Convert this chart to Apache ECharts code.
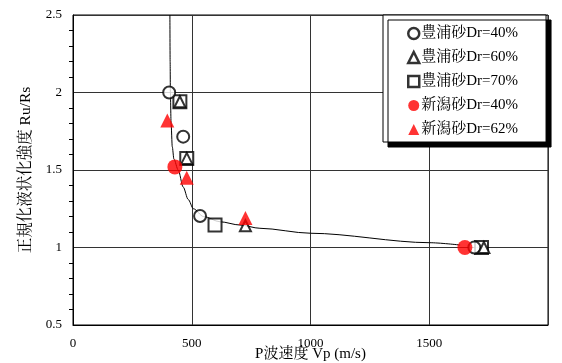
<!DOCTYPE html>
<html>
<head>
<meta charset="utf-8">
<script src="https://cdn.jsdelivr.net/npm/echarts@6/dist/echarts.min.js"></script>
<style>html,body{margin:0;padding:0;background:#fff}#c{width:562px;height:363px}</style>
</head>
<body>
<div id="c"></div>
<script>
var seriesNames = ['豊浦砂Dr=40%', '豊浦砂Dr=60%', '豊浦砂Dr=70%', '新潟砂Dr=40%', '新潟砂Dr=62%'];
var toyoura40 = [[405, 2.0], [464, 1.715], [535, 1.203], [1690, 1.0]];
var toyoura60 = [[450, 1.94], [479, 1.575], [726, 1.14], [1730, 1.0]];
var toyoura70 = [[450, 1.94], [479, 1.575], [598, 1.145], [1720, 1.0]];
var niigata40 = [[429, 1.52], [1650, 1.0]];
var niigata62 = [[397, 1.82], [479, 1.45], [726, 1.19]];
var fitCurve = [[408, 2.5], [409, 2.2], [410, 2.0], [413, 1.8], [418, 1.65], [425, 1.57], [443, 1.5], [464, 1.39], [485, 1.31], [507, 1.25], [549, 1.2], [619, 1.166], [703, 1.145], [787, 1.124], [1000, 1.092], [1500, 1.031], [1630, 1.016]];
var xTicks = ['0', '500', '1000', '1500', ''];
var xName = 'P波速度 Vp (m/s)';
var yName = '正規化液状化強度 Ru/Rs';

var FONT = "'Liberation Serif', 'Noto Serif CJK JP', 'Noto Sans CJK JP', serif";
var chart = echarts.init(document.getElementById('c'), null, {renderer: 'canvas'});
var openStyle = {color: '#fff', borderColor: '#000', borderWidth: 2};
var redStyle = {color: '#ff0000', borderColor: '#ff0000', borderWidth: 0};
chart.setOption({
  animation: false,
  backgroundColor: '#fff',
  textStyle: {fontFamily: FONT},
  grid: {left: 73, right: 14, top: 15, bottom: 38, show: true, borderColor: '#000', borderWidth: 1, containLabel: false, outerBoundsMode: 'none'},
  legend: {
    data: seriesNames.map(function (n, i) {
      return {name: n, itemStyle: i < 3 ? {borderWidth: 2.5, borderColor: '#000', color: '#fff'} : {borderWidth: 0}};
    }),
    orient: 'vertical',
    left: 383, top: 15,
    padding: [11, 28, 5, 24],
    itemGap: 9,
    itemWidth: 11, itemHeight: 11,
    backgroundColor: '#fff',
    borderColor: '#000', borderWidth: 1,
    shadowColor: '#000', shadowBlur: 0, shadowOffsetX: 5, shadowOffsetY: 5,
    textStyle: {fontFamily: FONT, fontSize: 15, color: '#000', padding: [0, 0, 0, -3]}
  },
  xAxis: {
    type: 'value', min: 0, max: 2000, interval: 500,
    name: xName, nameLocation: 'middle', nameGap: 22, nameMoveOverlap: false,
    nameTextStyle: {fontFamily: FONT, fontSize: 15, color: '#000'},
    axisLine: {show: true, lineStyle: {color: '#000', width: 1}},
    axisTick: {show: false},
    axisLabel: {color: '#000', fontSize: 13, fontFamily: FONT, margin: 12, formatter: function (v) { return xTicks[Math.round(v / 500)]; }},
    splitLine: {show: true, lineStyle: {color: '#333', width: 1}}
  },
  yAxis: {
    type: 'value', min: 0.5, max: 2.5, interval: 0.5,
    name: yName, nameLocation: 'middle', nameGap: 39, nameRotate: 90, nameMoveOverlap: false,
    nameTextStyle: {fontFamily: FONT, fontSize: 15.5, color: '#000'},
    axisLine: {show: true, lineStyle: {color: '#000', width: 1}},
    axisTick: {show: false},
    minorTick: {show: true, splitNumber: 5, length: 4, lineStyle: {color: '#000'}},
    axisLabel: {color: '#000', fontSize: 13, fontFamily: FONT, margin: 11},
    splitLine: {show: true, lineStyle: {color: '#333', width: 1}}
  },
  series: [
    {name: 'fit', type: 'line', data: fitCurve, showSymbol: false, symbol: 'none', smooth: 0.3, smoothMonotone: 'x', lineStyle: {color: '#000', width: 1}, z: 1, silent: true},
    {name: seriesNames[0], type: 'scatter', data: toyoura40, symbol: 'circle', symbolSize: 12, itemStyle: openStyle, z: 3},
    {name: seriesNames[1], type: 'scatter', data: toyoura60, symbol: 'triangle', symbolSize: 11, itemStyle: openStyle, z: 3},
    {name: seriesNames[2], type: 'scatter', data: toyoura70, symbol: 'rect', symbolSize: 13, itemStyle: openStyle, z: 2},
    {name: seriesNames[3], type: 'scatter', data: niigata40, symbol: 'circle', symbolSize: 15, itemStyle: redStyle, z: 4},
    {name: seriesNames[4], type: 'scatter', data: niigata62, symbol: 'triangle', symbolSize: 14, itemStyle: redStyle, z: 4}
  ]
});
</script>
</body>
</html>
